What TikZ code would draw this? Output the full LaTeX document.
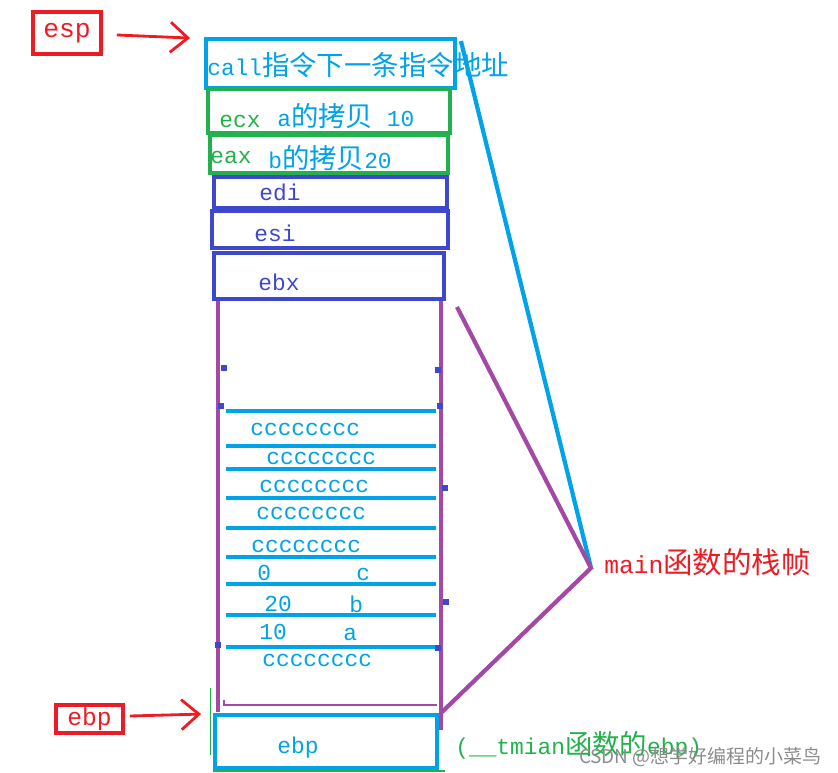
\documentclass[tikz,border=0pt]{standalone}
\usepackage{fontspec}
\setmainfont{Liberation Mono}
\newfontfamily\cjk[Scale=1.2]{Noto Sans CJK SC}
\usetikzlibrary{arrows.meta,positioning,calc}
\definecolor{penred}{HTML}{ED1C24}
\definecolor{penblue}{HTML}{00A2E8}
\definecolor{pengreen}{HTML}{22B14C}
\definecolor{penindigo}{HTML}{3F48CC}
\definecolor{penpurple}{HTML}{A349A4}
\newcommand{\pxl}{0.02cm}
\tikzset{
  regbox/.style={
    draw=#1,
    line width=2.2pt,
    inner sep=0pt
  },
  boxsize/.style 2 args={minimum width=#1*\pxl, minimum height=#2*\pxl},
  txt/.style={
    text=#1,
    anchor=west,
    inner sep=0pt,
    font=\fontsize{13pt}{15pt}\selectfont
  },
  rule/.style={penblue, line width=2.6pt},
  redarrow/.style={penred, line width=1.6pt, -{Straight Barb[length=3.5mm,width=6mm]}},
  dot/.style={fill=penindigo, minimum size=3pt, inner sep=0pt}
}
\begin{document}
\begin{tikzpicture}[x=0.02cm,y=-0.02cm]
  \useasboundingbox (0,0) rectangle (838,773);
  % registers pointing into the frame
  \node[regbox=penred, boxsize={68}{42}, text=penred,
        font=\fontsize{15pt}{17pt}\selectfont] (esp) at (67,33) {esp};
  \node[regbox=penred, boxsize={67}{28}, text=penred,
        font=\fontsize{14pt}{16pt}\selectfont] (ebpreg) at (89.5,719) {ebp};
  % stack slots
  \node[regbox=penblue, boxsize={249}{49}] (call) at (330.5,63.5) {};
  \node[regbox=pengreen, boxsize={242}{44}] (ecx) at (329,111) {};
  \node[regbox=pengreen, boxsize={238}{38}] (eax) at (329,154) {};
  \node[regbox=penindigo, boxsize={233}{31}] (edi) at (330.5,192.5) {};
  \node[regbox=penindigo, boxsize={236}{37}] (esi) at (330,229.5) {};
  \node[regbox=penindigo, boxsize={230}{46}] (ebx) at (329,276) {};
  \node[regbox=penblue, boxsize={222}{53}] (oldebp) at (326,741.5) {};
  \node[txt=penblue] (calltxt) at (207,65) {call{\cjk 指令下一条指令地址}};
  \node[txt=pengreen] (ecxtxt) at (219,121) {ecx};
  \node[txt=penblue] (acopy) at (277,116) {a{\cjk 的拷贝} 10};
  \node[txt=pengreen] (eaxtxt) at (210,157) {eax};
  \node[txt=penblue] (bcopy) at (268,158) {b{\cjk 的拷贝}20};
  \node[txt=penindigo] (editxt) at (259,192) {edi};
  \node[txt=penindigo] (esitxt) at (254,233) {esi};
  \node[txt=penindigo] (ebxtxt) at (258,282) {ebx};
  \node[txt=penblue] (ebptxt) at (277,748) {ebp};
  % main frame sides
  \coordinate (ftl) at (218,301);
  \coordinate (fbl) at (218,712);
  \coordinate (ftr) at (441,301);
  \coordinate (fbr) at (441,730);
  \draw[penpurple, line width=2.4pt] (ftl) -- (fbl);
  \draw[penpurple, line width=2.4pt] (ftr) -- (fbr);
  \draw[penpurple, line width=0.9pt] (224,700) -- (224,705) -- (437,705);
  % filled slots
  \foreach \y in {411,446,469,498,528,557,584,615,647}
    \draw[rule] (226,\y) -- (436,\y);
  \foreach \x/\y in {250/429,266/458,259/486,256/513,251/546,262/660}
    \node[txt=penblue] at (\x,\y) {cccccccc};
  \node[txt=penblue] (zero) at (257,573) {0};
  \node[txt=penblue] (cvar) at (356,574) {c};
  \node[txt=penblue] (twenty) at (264,604) {20};
  \node[txt=penblue] (bvar) at (349,604) {b};
  \node[txt=penblue] (ten) at (259,632) {10};
  \node[txt=penblue] (avar) at (343,634) {a};
  \foreach \x/\y in {224/368,438/370,221/406,440/406,445/488,446/602,438/648,218/645}
    \node[dot] at (\x,\y) {};
  \draw[pengreen, line width=0.5pt] (210,688) -- (210,755);
  \draw[pengreen, line width=0.6pt] (213,771) -- (445,771);
  % pointers
  \draw[redarrow] ($(esp.east)+(14,2)$) -- ($(call.north west)+(-14,1)$);
  \draw[redarrow] ($(ebpreg.east)+(5,-3)$) -- ($(oldebp.north west)+(-12,1)$);
  % brace lines to the label
  \coordinate (apex) at (591,568);
  \draw[penblue, line width=2.4pt] ($(call.north east)+(4,4)$) -- (apex);
  \draw[penpurple, line width=2.4pt] ($(ebx.south east)+(11,6)$) -- (apex) -- ($(fbr)+(1,-18)$);
  \node[txt=penred, font=\fontsize{14pt}{16pt}\selectfont] (mainlbl) at (604,562)
    {main{\cjk 函数的栈帧}};
  \node[txt=pengreen] (tmianlbl) at (455,745) {(\_\_tmian{\cjk 函数的}ebp)};
  \node[anchor=east, inner sep=0pt, text=black!45, font=\cjk\fontsize{9pt}{10pt}\selectfont]
    (mark) at (822,757) {CSDN @想学好编程的小菜鸟};
\end{tikzpicture}
\end{document}
